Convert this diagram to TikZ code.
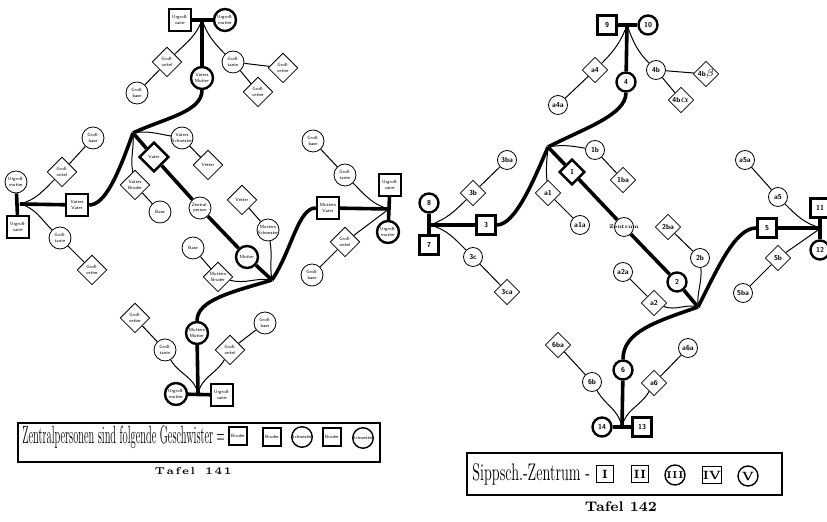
\documentclass[tikz,border=0pt]{standalone}
\usepackage{graphicx}
\usetikzlibrary{shapes.geometric}

\begin{document}
\begin{tikzpicture}[
    x=0.5pt, y=-0.5pt,
    kin/.style={draw, inner sep=0pt, align=center, font=\sffamily\kf},
    msq/.style={kin, rectangle, minimum size=\ns, line width=1.2pt},
    fci/.style={kin, circle, minimum size=\ns, line width=1.2pt},
    tci/.style={kin, circle, minimum size=\ns, line width=0.4pt},
    tdi/.style={kin, diamond, minimum size=1.35*\ns, line width=0.4pt},
    kdi/.style={tdi, line width=1.2pt},
    stem/.style={line width=1.8pt},
    twig/.style={line width=0.5pt},
    lgsym/.style={draw, inner sep=0pt, minimum size=\ns, line width=0.7pt, align=center},
    caption/.style={font=\bfseries, inner sep=0pt}
]
\useasboundingbox (0,0) rectangle (827,522);

% ---------------- Tafel 141 ----------------
\def\ns{11pt}
\def\kf{\fontsize{2.3}{2.6}\selectfont}
\node[msq] (gf) at (180,20) {Urgroß-\\vater};
\node[fci] (gm) at (225,20) {Urgroß-\\mutter};
\coordinate (j1) at (202,20);
\node[fci] (vm) at (202,78) {Vaters\\Mutter};
\node[tdi] (go1) at (167,62) {Groß-\\onkel};
\node[tci] (gb1) at (137,93) {Groß-\\base};
\node[tci] (gt1) at (233,62) {Groß-\\tante};
\node[tdi] (gv1) at (283,68) {Groß-\\vetter};
\node[tdi] (gv2) at (258,92) {Groß-\\vetter};

\coordinate (j2) at (133,133);
\node[kdi] (va) at (154,157) {Vater};
\node[tci] (zp) at (200,208) {Zentral-\\person};
\node[fci] (mu) at (247,257) {Mutter};
\coordinate (j3) at (272,280);
\node[tci] (vs) at (182,138) {Vaters\\Schwester};
\node[tdi] (ve1) at (208,165) {Vetter};
\node[tdi] (vb) at (135,185) {Vaters\\Bruder};
\node[tci] (ba1) at (160,212) {Base};

\node[tci] (lm) at (16,182) {Urgroß-\\mutter};
\node[msq] (lv) at (18,227) {Urgroß-\\vater};
\coordinate (j4) at (20,204);
\node[msq] (vv) at (77,205) {Vaters\\Vater};
\node[tdi] (go2) at (62,172) {Groß-\\onkel};
\node[tci] (gb2) at (93,138) {Groß-\\base};
\node[tci] (gt2) at (60,238) {Groß-\\tante};
\node[tdi] (gv3) at (92,270) {Groß-\\vetter};

\node[msq] (mv) at (328,208) {Mutters\\Vater};
\node[msq] (rv) at (390,185) {Urgroß-\\vater};
\node[fci] (rm) at (388,232) {Urgroß-\\mutter};
\coordinate (j5) at (389,209);
\node[tci] (gt3) at (345,175) {Groß-\\tante};
\node[tci] (gb3) at (313,141) {Groß-\\base};
\node[tdi] (go3) at (345,242) {Groß-\\onkel};
\node[tci] (gb4) at (312,275) {Groß-\\base};

\node[tdi] (ve2) at (242,200) {Vetter};
\node[tci] (ms) at (268,230) {Mutters\\Schwester};
\node[tci] (ba2) at (193,248) {Base};
\node[tdi] (mb) at (218,277) {Mutters\\Bruder};

\node[fci] (mm) at (197,333) {Mutters\\Mutter};
\node[tci] (gt4) at (165,350) {Groß-\\tante};
\node[tdi] (gv4) at (135,318) {Groß-\\vetter};
\node[tdi] (go4) at (230,350) {Groß-\\onkel};
\node[tci] (gb5) at (265,323) {Groß-\\base};
\node[fci] (bm) at (176,394) {Urgroß-\\mutter};
\node[msq] (bv) at (222,395) {Urgroß-\\vater};
\coordinate (j6) at (198,394);

\draw[stem] (gf) -- (gm);
\draw[stem] (j1) -- (vm);
\draw[twig] (j1) to[out=-110,in=45] (go1);
\draw[twig] (go1) -- (gb1);
\draw[twig] (j1) to[out=-70,in=135] (gt1);
\draw[twig] (gt1) -- (gv1);
\draw[twig] (gt1) -- (gv2);
\draw[stem] (vm.south) .. controls (202,112) and (165,118) .. (j2);
\draw[stem] (j2) -- (va) -- (zp) -- (mu) -- (j3);
\draw[twig] (j2) to[out=10,in=170] (vs);
\draw[twig] (vs) -- (ve1);
\draw[twig] (j2) to[out=-85,in=100] (vb);
\draw[twig] (vb) -- (ba1);
\draw[stem] (j2) .. controls (118,175) and (105,205) .. (vv.east);

\draw[stem] (lm) -- (lv);
\draw[stem] (j4) -- (vv);
\draw[twig] (j4) to[out=15,in=-135] (go2);
\draw[twig] (go2) -- (gb2);
\draw[twig] (j4) to[out=-15,in=135] (gt2);
\draw[twig] (gt2) -- (gv3);

\draw[stem] (rv) -- (rm);
\draw[stem] (j5) -- (mv);
\draw[twig] (j5) to[out=165,in=-45] (gt3);
\draw[twig] (gt3) -- (gb3);
\draw[twig] (j5) -- (go3);
\draw[twig] (go3) -- (gb4);
\draw[stem] (mv.west) .. controls (298,208) and (292,250) .. (j3);

\draw[twig] (ve2) -- (ms);
\draw[twig] (j3) to[out=100,in=-80] (ms);
\draw[twig] (ba2) -- (mb);
\draw[twig] (j3) to[out=170,in=-15] (mb);
\draw[stem] (j3) .. controls (232,292) and (197,300) .. (mm.north);

\draw[stem] (bm) -- (bv);
\draw[stem] (j6) -- (mm);
\draw[twig] (j6) to[out=100,in=-60] (gt4);
\draw[twig] (gt4) -- (gv4);
\draw[twig] (j6) to[out=80,in=-120] (go4);
\draw[twig] (go4) -- (gb5);

% legend 141
\def\ns{9pt}
\draw[line width=0.7pt] (18,423) rectangle (380,462);
\draw[line width=1.4pt] (18,423) -- (18,462);
\node[anchor=west, inner sep=0pt] (zt) at (22,437)
  {\scalebox{0.42}[1]{\fontsize{12.5}{14}\selectfont Zentralpersonen sind folgende Geschwister =}};
\node[lgsym, rectangle, font=\sffamily\kf] (lg1) at (238,436) {Bruder};
\node[lgsym, rectangle, font=\sffamily\kf] (lg2) at (272,437) {Bruder};
\node[lgsym, circle, font=\sffamily\kf] (lg3) at (302,437) {Schwester};
\node[lgsym, rectangle, font=\sffamily\kf] (lg4) at (332,437) {Bruder};
\node[lgsym, circle, font=\sffamily\kf] (lg5) at (363,438) {Schwester};
\node[caption, font=\bfseries\fontsize{5}{6}\selectfont] (cap1) at (193,471) {T\,a\,f\,e\,l \ 1\,4\,1};

% ---------------- Tafel 142 ----------------
\def\ns{9.5pt}
\def\kf{\bfseries\fontsize{3.6}{4.2}\selectfont}
\node[msq] (n9) at (607,25) {9};
\node[fci] (n10) at (648,25) {10};
\coordinate (k1) at (627,25);
\node[fci] (n4) at (626,82) {4};
\node[tdi] (a4) at (595,70) {a4};
\node[tci] (a4a) at (558,105) {a4a};
\node[tci] (b4) at (656,70) {4b};
\node[tdi] (b4b) at (706,74) {4b$\beta$};
\node[tdi] (b4a) at (681,100) {4b$\alpha$};

\coordinate (k2) at (548,147);
\node[kdi] (n1) at (572,172) {1};
\node[tci, label={[font=\bfseries\fontsize{2.6}{3}\selectfont, inner sep=0pt]center:Zentrum}] (zen) at (624,227) {};
\node[fci] (n2) at (677,282) {2};
\coordinate (k3) at (698,307);
\node[tci] (b1) at (595,150) {1b};
\node[tdi] (b1a) at (623,180) {1ba};
\node[tdi] (a1) at (548,193) {a1};
\node[tci] (a1a) at (580,225) {a1a};

\node[fci] (n8) at (429,203) {8};
\node[msq] (n7) at (429,245) {7};
\coordinate (k4) at (430,225);
\node[msq] (n3) at (486,225) {3};
\node[tdi] (b3) at (473,193) {3b};
\node[tci] (b3a) at (507,160) {3ba};
\node[tci] (c3) at (473,257) {3c};
\node[tdi] (c3a) at (507,292) {3ca};

\node[tdi] (b2a) at (668,227) {2ba};
\node[tci] (b2) at (700,258) {2b};
\node[tci] (a2a) at (623,272) {a2a};
\node[tdi] (a2) at (654,303) {a2};

\node[msq] (n5) at (767,228) {5};
\node[msq] (n11) at (820,208) {11};
\node[fci] (n12) at (820,250) {12};
\coordinate (k5) at (821,228);
\node[tci] (a5) at (778,197) {a5};
\node[tci] (a5a) at (745,160) {a5a};
\node[tdi] (b5) at (778,258) {5b};
\node[tci] (b5a) at (743,293) {5ba};

\node[fci] (n6) at (623,370) {6};
\node[tci] (b6) at (592,382) {6b};
\node[tdi] (b6a) at (558,345) {6ba};
\node[tdi] (a6) at (654,383) {a6};
\node[tci] (a6a) at (688,348) {a6a};
\node[fci] (n14) at (602,427) {14};
\node[msq] (n13) at (642,427) {13};
\coordinate (k6) at (622,427);

\draw[stem] (n9) -- (n10);
\draw[stem] (k1) -- (n4);
\draw[twig] (k1) to[out=-110,in=45] (a4);
\draw[twig] (a4) -- (a4a);
\draw[twig] (k1) to[out=-70,in=135] (b4);
\draw[twig] (b4) -- (b4b);
\draw[twig] (b4) -- (b4a);
\draw[stem] (n4.south) .. controls (626,115) and (585,128) .. (k2);
\draw[stem] (k2) -- (n1) -- (zen) -- (n2) -- (k3);
\draw[twig] (k2) to[out=10,in=170] (b1);
\draw[twig] (b1) -- (b1a);
\draw[twig] (k2) to[out=-95,in=95] (a1);
\draw[twig] (a1) -- (a1a);
\draw[stem] (k2) .. controls (533,182) and (515,225) .. (n3.east);

\draw[stem] (n8) -- (n7);
\draw[stem] (k4) -- (n3);
\draw[twig] (k4) to[out=20,in=-135] (b3);
\draw[twig] (b3) -- (b3a);
\draw[twig] (k4) to[out=-15,in=135] (c3);
\draw[twig] (c3) -- (c3a);

\draw[twig] (b2a) -- (b2);
\draw[twig] (k3) to[out=95,in=-85] (b2);
\draw[twig] (a2a) -- (a2);
\draw[twig] (k3) to[out=165,in=-20] (a2);
\draw[stem] (k3) .. controls (718,268) and (735,228) .. (n5.west);
\draw[stem] (k3) .. controls (655,322) and (623,332) .. (n6.north);

\draw[stem] (n11) -- (n12);
\draw[stem] (k5) -- (n5);
\draw[twig] (k5) to[out=165,in=-45] (a5);
\draw[twig] (a5) -- (a5a);
\draw[twig] (k5) -- (b5);
\draw[twig] (b5) -- (b5a);

\draw[stem] (n14) -- (n13);
\draw[stem] (k6) -- (n6);
\draw[twig] (k6) to[out=100,in=-60] (b6);
\draw[twig] (b6) -- (b6a);
\draw[twig] (k6) to[out=80,in=-120] (a6);
\draw[twig] (a6) -- (a6a);

% legend 142
\def\ns{8.5pt}
\draw[line width=0.7pt] (467,453) rectangle (782,495);
\node[anchor=west, inner sep=0pt] (sz) at (472,474)
  {\scalebox{0.6}[1]{\fontsize{12}{14}\selectfont Sippsch.-Zentrum -}};
\node[lgsym, rectangle, font=\bfseries\fontsize{6}{7}\selectfont] (r1) at (605,474) {I};
\node[lgsym, rectangle, font=\bfseries\fontsize{6}{7}\selectfont] (r2) at (640,474) {II};
\node[lgsym, circle, minimum size=10pt, font=\bfseries\fontsize{5}{6}\selectfont] (r3) at (675,475) {III};
\node[lgsym, rectangle, font=\bfseries\fontsize{6}{7}\selectfont] (r4) at (712,475) {IV};
\node[lgsym, circle, minimum size=10pt, font=\bfseries\fontsize{6}{7}\selectfont] (r5) at (748,476) {V};
\node[caption, font=\bfseries\fontsize{7}{8}\selectfont] (cap2) at (621,507) {Tafel 142};
\end{tikzpicture}
\end{document}
